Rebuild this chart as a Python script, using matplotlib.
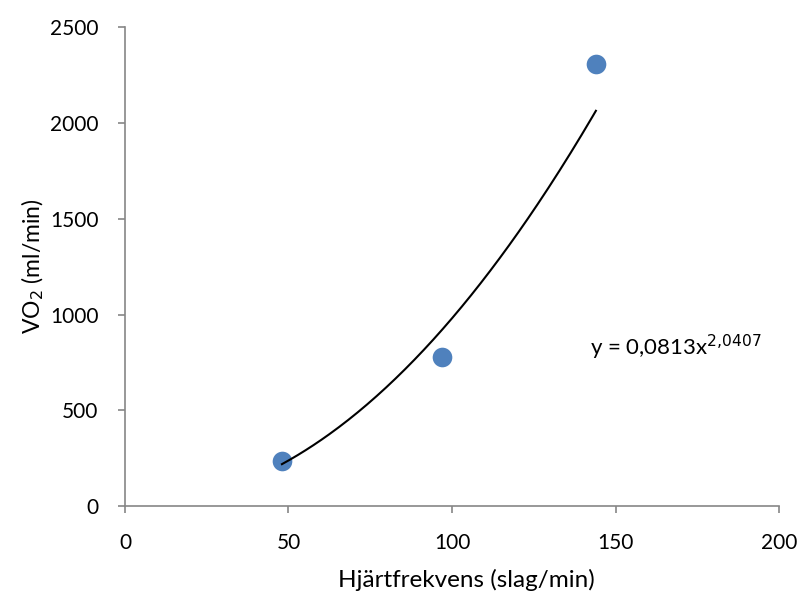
import matplotlib
matplotlib.use("Agg")
import matplotlib.pyplot as plt
import numpy as np

plt.rcParams['font.family'] = ['Lato', 'DejaVu Sans']

heart_rate = [48, 97, 144]
vo2 = [235, 780, 2310]
fit_a = 0.0813
fit_b = 2.0407
x_ticks = [0, 50, 100, 150, 200]
y_ticks = [0, 500, 1000, 1500, 2000, 2500]

fig = plt.figure(figsize=(7.99, 5.92), dpi=100)
ax = fig.add_axes([0.1564, 0.145, 0.8186, 0.809])

xs = np.linspace(min(heart_rate), max(heart_rate), 200)
ax.plot(xs, fit_a * xs ** fit_b, color='black', lw=1.5, zorder=3)
ax.scatter(heart_rate, vo2, s=200, color='#4F81BD', zorder=2, linewidths=0)

ax.set_xlim(0, 200)
ax.set_ylim(0, 2500)
ax.set_xticks(x_ticks)
ax.set_yticks(y_ticks)
for s in ['top', 'right']:
    ax.spines[s].set_visible(False)
for s in ['left', 'bottom']:
    ax.spines[s].set_color('#868686')
    ax.spines[s].set_linewidth(1.2)
ax.tick_params(axis='both', direction='out', length=5, width=1.2, color='#868686',
               labelsize=15)
ax.tick_params(axis='y', pad=14)
ax.tick_params(axis='x', pad=14)
ax.set_xlabel('Hjärtfrekvens (slag/min)', fontsize=17.5, labelpad=10)
ax.xaxis.set_label_coords(0.5 + 14 / 654, -0.131)
ax.set_ylabel('VO$_2$ (ml/min)', fontsize=16.5, labelpad=8)
ax.yaxis.set_label_coords(-0.121, 0.5)

ax.text(142.2, 788, 'y = 0,0813x$^{2{,}0407}$', fontsize=16, va='baseline')

fig.savefig('out.png', dpi=100)
